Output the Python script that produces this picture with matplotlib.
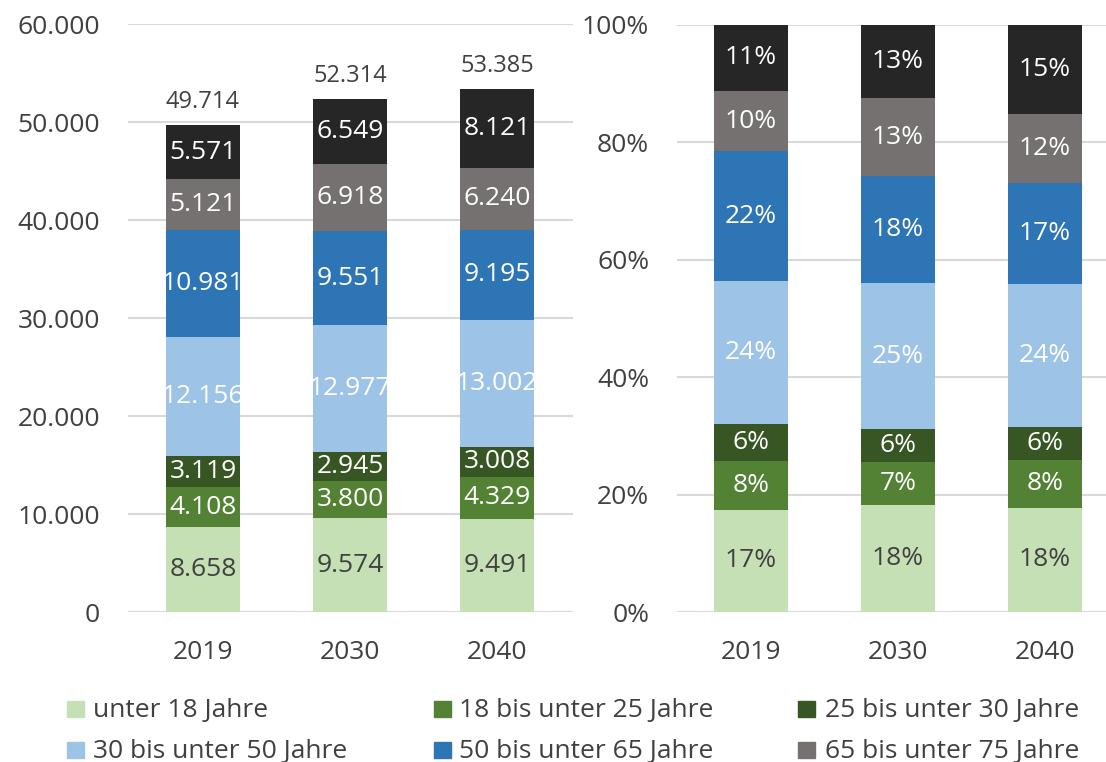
import numpy as np
import matplotlib as mpl
mpl.use('Agg')
import matplotlib.pyplot as plt
from matplotlib.patches import Rectangle

plt.rcParams['font.family'] = ['Open Sans', 'DejaVu Sans']

years = ["2019", "2030", "2040"]
groups = ["unter 18 Jahre", "18 bis unter 25 Jahre", "25 bis unter 30 Jahre",
          "30 bis unter 50 Jahre", "50 bis unter 65 Jahre", "65 bis unter 75 Jahre",
          "75 Jahre und älter"]
unter_18 = [8658, 9574, 9491]
von_18_25 = [4108, 3800, 4329]
von_25_30 = [3119, 2945, 3008]
von_30_50 = [12156, 12977, 13002]
von_50_65 = [10981, 9551, 9195]
von_65_75 = [5121, 6918, 6240]
ab_75 = [5571, 6549, 8121]
totals = [49714, 52314, 53385]

series = [unter_18, von_18_25, von_25_30, von_30_50, von_50_65, von_65_75, ab_75]
colors = ["#C5E0B4", "#548235", "#375623", "#9DC3E6", "#2E75B6", "#767171", "#262626"]
label_colors = ["#404040", "white", "white", "white", "white", "white", "white"]

TXT = "#404040"
GRID = "#D9D9D9"
W, H = 1106, 762
FS = 19


def de_num(v):
    return f"{v:,}".replace(",", ".")


def style_axis(ax):
    for s in ax.spines.values():
        s.set_visible(False)
    ax.tick_params(length=0, labelsize=FS, labelcolor=TXT)
    ax.tick_params(axis='y', pad=20)
    ax.tick_params(axis='x', pad=20)
    ax.yaxis.grid(True, color=GRID, linewidth=1.5)
    ax.set_axisbelow(True)


fig = plt.figure(figsize=(W / 100, H / 100), dpi=100)

# left: absolute numbers
ax1 = fig.add_axes([128 / W, 1 - 612 / H, (573 - 128) / W, (612 - 24) / H])
x = np.arange(len(years))
bottom = np.zeros(len(years))
for vals, c, lc in zip(series, colors, label_colors):
    bars = ax1.bar(x, vals, 0.5, bottom=bottom, color=c)
    ax1.bar_label(bars, labels=[de_num(v) for v in vals], label_type='center',
                  color=lc, fontsize=FS)
    bottom += np.array(vals)
ax1.bar_label(bars, labels=[de_num(t) for t in totals], padding=8,
              color=TXT, fontsize=17)
ax1.set_ylim(0, 60000)
ax1.set_yticks(range(0, 60001, 10000))
ax1.set_yticklabels([de_num(v) for v in range(0, 60001, 10000)])
ax1.set_xlim(-0.51, 2.517)
ax1.set_xticks(x)
ax1.set_xticklabels(years)
style_axis(ax1)

# right: shares
ax2 = fig.add_axes([677 / W, 1 - 612 / H, (1106 - 677) / W, (612 - 25) / H])
tot = np.sum(np.array(series), axis=0)
bottom = np.zeros(len(years))
for vals, c, lc in zip(series, colors, label_colors):
    share = np.array(vals) / tot
    bars = ax2.bar(x, share, 0.5, bottom=bottom, color=c)
    ax2.bar_label(bars, labels=[f"{round(p * 100)}%" for p in share],
                  label_type='center', color=lc, fontsize=FS)
    bottom += share
ax2.set_ylim(0, 1)
ax2.set_yticks(np.arange(0, 1.01, 0.2))
ax2.set_yticklabels([f"{int(round(v * 100))}%" for v in np.arange(0, 1.01, 0.2)])
ax2.set_xlim(-0.503, 2.415)
ax2.set_xticks(x)
ax2.set_xticklabels(years)
style_axis(ax2)

# legend (last entry is cut off in the original)
key_x = [67, 434, 798]
text_x = [93, 459, 825]
row_base = [717, 758]
for i in range(6):
    col, row = i % 3, i // 3
    fig.patches.append(Rectangle((key_x[col] / W, 1 - row_base[row] / H), 17 / W, 16 / H,
                                 transform=fig.transFigure, color=colors[i]))
    fig.text(text_x[col] / W, 1 - row_base[row] / H, groups[i], va='baseline',
             ha='left', color=TXT, fontsize=FS)

fig.savefig("out.png", dpi=100)
